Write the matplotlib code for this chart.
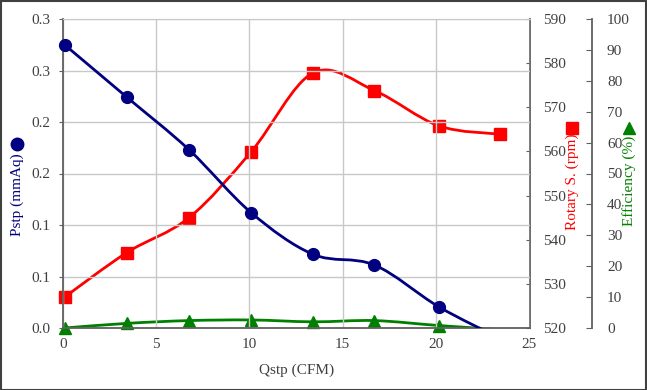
import matplotlib
matplotlib.use("Agg")
import matplotlib.pyplot as plt
from matplotlib.path import Path
from matplotlib.patches import PathPatch, Rectangle
from matplotlib.lines import Line2D
import numpy as np

# ---- data ----
qstp = [0.1, 3.44, 6.77, 10.09, 13.41, 16.69, 20.14, 23.42]
pstp = [0.275, 0.224, 0.173, 0.112, 0.0715, 0.0612, 0.0206, -0.010]
rpm = [527.0, 537.1, 545.0, 559.9, 577.8, 573.8, 565.8, 563.9]
eff = [0.0, 1.5, 2.4, 2.6, 2.0, 2.4, 0.8, -0.5]

x_ticks = [0, 5, 10, 15, 20, 25]
p_ticks = [0.0, 0.05, 0.10, 0.15, 0.20, 0.25, 0.30]
p_tick_labels = ['0.0', '0.1', '0.1', '0.2', '0.2', '0.3', '0.3']
rpm_ticks = [520, 530, 540, 550, 560, 570, 580, 590]
eff_ticks = [0, 10, 20, 30, 40, 50, 60, 70, 80, 90, 100]

W, H = 647, 390
plt.rcParams['font.family'] = ['Liberation Serif', 'DejaVu Sans']
plt.rcParams['font.size'] = 11

TXT = '#404040'
SPINE = '#606060'
GRID = '#c8c8c8'
NAVY = '#000080'
RED = '#ff0000'
GREEN = '#008000'

fig = plt.figure(figsize=(W / 100, H / 100), dpi=100)
L, R, T, B = 62.7, 529.5, 19, 328
ax = fig.add_axes([L / W, 1 - B / H, (R - L) / W, (B - T) / H])
ax2 = ax.twinx()
ax3 = ax.twinx()


def smooth_path(xs, ys):
    pts = np.column_stack([xs, ys])
    n = len(pts)
    verts = [pts[0]]
    codes = [Path.MOVETO]
    for i in range(n - 1):
        p0 = pts[i - 1] if i > 0 else pts[i]
        p1 = pts[i]
        p2 = pts[i + 1]
        p3 = pts[i + 2] if i + 2 < n else pts[i + 1]
        c1 = p1 + (p2 - p0) / 6.0
        c2 = p2 - (p3 - p1) / 6.0
        verts += [c1, c2, p2]
        codes += [Path.CURVE4] * 3
    return Path(verts, codes)


def draw_series(a, xs, ys, color, marker, ms, lo):
    a.add_patch(PathPatch(smooth_path(xs, ys), fill=False, edgecolor=color,
                          lw=2.0, zorder=3, capstyle='round', joinstyle='round'))
    xs_v = [x for x, y in zip(xs, ys) if y >= lo]
    ys_v = [y for y in ys if y >= lo]
    a.plot(xs_v, ys_v, linestyle='none', marker=marker, ms=ms, color=color,
           markeredgecolor=color, clip_on=False, zorder=4)


# left axis
ax.set_xlim(0, 25)
ax.set_ylim(0, 0.30)
ax.set_xticks(x_ticks)
ax.set_yticks(p_ticks)
ax.set_yticklabels(p_tick_labels)
ax.grid(True, color=GRID, lw=1.0)
ax.set_axisbelow(True)
ax.tick_params(axis='y', direction='out', length=3, pad=6, colors=TXT, color=SPINE)
ax.tick_params(axis='x', direction='out', length=0, pad=7, colors=TXT)
for s in ['left', 'bottom']:
    ax.spines[s].set_color(SPINE)
    ax.spines[s].set_linewidth(1.3)
ax.spines['top'].set_color(GRID)
ax.spines['right'].set_visible(False)
ax.set_xlabel('Qstp (CFM)', color=TXT, labelpad=9)

# rpm axis
ax2.set_ylim(520, 590)
ax2.set_yticks(rpm_ticks)
ax2.tick_params(axis='y', direction='in', length=3, pad=10, colors=TXT, color=SPINE)
ax2.spines['right'].set_color(SPINE)
ax2.spines['right'].set_linewidth(1.3)
for s in ['left', 'top', 'bottom']:
    ax2.spines[s].set_visible(False)

# efficiency axis
ax3.set_ylim(0, 100)
ax3.set_yticks(eff_ticks)
ax3.spines['right'].set_position(('axes', (591.7 - L) / (R - L)))
ax3.spines['right'].set_color(SPINE)
ax3.spines['right'].set_linewidth(1.3)
for s in ['left', 'top', 'bottom']:
    ax3.spines[s].set_visible(False)
ax3.tick_params(axis='y', direction='in', length=4, pad=11, colors=TXT, color=SPINE)

draw_series(ax3, qstp, eff, GREEN, '^', 8, 0)
draw_series(ax2, qstp, rpm, RED, 's', 8.5, 520)
draw_series(ax, qstp, pstp, NAVY, 'o', 8.5, 0)
ax.set_zorder(3)
ax.patch.set_visible(False)
ax2.set_zorder(2)
ax3.set_zorder(1)

# axis titles
fig.text(17 / W, 1 - 195 / H, 'Pstp (mmAq)', rotation=90, color=NAVY,
         ha='center', va='center')
fig.add_artist(Line2D([17 / W], [1 - 144 / H], marker='o', ms=9, color=NAVY,
                      transform=fig.transFigure))
fig.text(572 / W, 1 - 182 / H, 'Rotary S. (rpm)', rotation=90, color=RED,
         ha='center', va='center')
fig.add_artist(Line2D([572 / W], [1 - 128 / H], marker='s', ms=9, color=RED,
                      transform=fig.transFigure))
fig.text(629 / W, 1 - 181 / H, 'Efficiency (%)', rotation=90, color=GREEN,
         ha='center', va='center')
fig.add_artist(Line2D([629 / W], [1 - 128 / H], marker='^', ms=9, color=GREEN,
                      transform=fig.transFigure))

# outer border
fig.add_artist(Rectangle((0.5 / W, 0.5 / H), (W - 1.5) / W, (H - 1.5) / H,
                         transform=fig.transFigure, fill=False,
                         edgecolor='#404040', lw=1.5))

fig.savefig('out.png', dpi=100)
